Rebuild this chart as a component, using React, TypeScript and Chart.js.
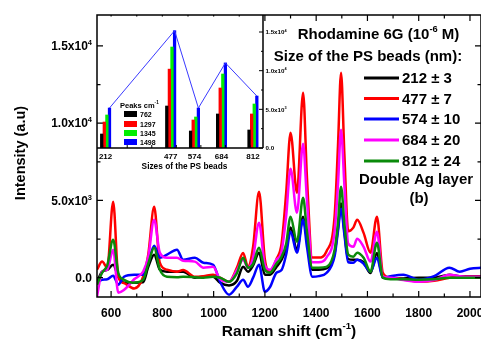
import React, { useEffect, useRef } from "react";
import { Chart, registerables } from "chart.js";

Chart.register(...registerables);

const FONT = '"Liberation Sans", Arial, Helvetica, sans-serif';

// ---- Main SERS spectra -------------------------------------------------
const ramanShift = [545, 565, 585, 608, 628, 650, 690, 725, 745, 768, 790, 818, 857, 881, 927, 960, 998, 1025, 1060, 1091, 1115, 1134, 1154, 1177, 1200, 1220, 1245, 1265, 1283, 1300, 1325, 1349, 1364, 1385, 1410, 1440, 1472, 1485, 1497, 1510, 1525, 1545, 1560, 1585, 1612, 1637, 1660, 1690, 1740, 1800, 1860, 1920, 1960, 2000, 2050];

const beads212 = [-260, 390, 500, 840, 60, -320, -320, -300, 700, 1490, 520, 390, 390, 390, 0, 60, 60, -320, -500, -200, 710, 390, 800, 1620, 190, 190, 700, 1160, 1900, 3240, 1810, 3950, 2500, 520, 520, 600, 1600, 3200, 4800, 3000, 1200, 1160, 1160, 1000, 300, 1600, 0, -50, -50, 0, 0, 190, 100, 100, 100];
const beads477 = [520, 1040, 650, 4920, 60, -350, -700, 60, 1500, 4590, 970, 520, 390, 500, 60, 100, 190, 0, -260, 650, 1600, 710, 2000, 5560, 1160, 390, 1200, 2200, 5500, 9380, 5500, 11970, 6500, 1300, 1300, 1700, 4000, 8500, 13260, 8000, 3000, 3240, 3750, 2900, 1620, 3950, 320, 0, -100, -260, -200, 0, 60, 60, 60];
const beads574 = [-320, -130, -100, 130, -450, 60, 190, 190, 970, 2070, 1290, 1490, 1810, 1160, 1290, 970, 840, -260, -1100, -580, -130, -580, 0, 840, -900, -600, 320, 500, 1500, 2980, 1620, 3750, 2000, 60, 100, 300, 1400, 3000, 4460, 2800, 1000, 970, 1160, 900, 390, 1290, 0, 100, 190, -130, 100, 650, 390, 580, 650];
const beads684 = [-1230, 400, 520, 1810, -970, -800, -100, 400, 1360, 3750, 1620, 1290, 1290, 1100, 1040, 650, 710, -100, -260, 500, 1160, 650, 1300, 3560, 800, 520, 1160, 1700, 4000, 7050, 4200, 8670, 5000, 1000, 1000, 1300, 3000, 6000, 9580, 6000, 2200, 2000, 2520, 2000, 1040, 2980, 60, 0, -150, -260, -150, 190, 100, 60, 60];
const beads812 = [-450, 320, 800, 2460, 320, -130, -320, -130, 900, 1940, 520, 60, 30, 60, 30, 0, 60, 0, -260, 300, 1290, 650, 900, 1940, 500, 320, 900, 1360, 2200, 3950, 2330, 5180, 3000, 650, 650, 700, 1800, 3500, 5890, 3500, 1500, 1360, 1620, 1290, 390, 2260, 0, -100, -100, -130, -100, 0, 0, 0, 0];

const spectra = [beads212, beads477, beads574, beads684, beads812];
const sizeLabels = ["212 \u00b1 3", "477 \u00b1 7", "574 \u00b1 10", "684 \u00b1 20", "812 \u00b1 24"];
const spectrumColors = ["#000000", "#ff0000", "#0000ff", "#ff00ff", "#0a8a0a"];
// later series are painted on top
const spectrumOrder = [4, 3, 2, 1, 0];

const xMajorTicks = [600, 800, 1000, 1200, 1400, 1600, 1800, 2000];
const xMinorTicks = [700, 900, 1100, 1300, 1500, 1700, 1900];
const yMajorTicks = [0, 5000, 10000, 15000];
const yMinorTicks = [2500, 7500, 12500];
const yTickText: [string, string][] = [["0.0", ""], ["5.0x10", "3"], ["1.0x10", "4"], ["1.5x10", "4"]];

// ---- Inset: peak intensities vs bead size -------------------------------
const beadSizes = [212, 477, 574, 684, 812];
const peakNames = ["762", "1297", "1345", "1498"];
const peak762 = [1810, 5430, 2200, 4400, 2330];
const peak1297 = [3360, 10200, 3620, 7760, 4400];
const peak1345 = [4270, 13060, 4010, 9570, 5690];
const peak1498 = [5170, 15170, 5170, 11000, 6720];
const peakSeries = [peak762, peak1297, peak1345, peak1498];
const peakColors = ["#000000", "#ff0000", "#00ee00", "#0000ff"];
const insetXTicks = [200, 300, 400, 500, 600, 700, 800];
const insetYTicks = [0, 5000, 10000, 15000];
const insetYMinor = [2500, 7500, 12500];
const insetYText: [string, string][] = [["0.0", ""], ["5.0x10", "3"], ["1.0x10", "4"], ["1.5x10", "4"]];

type Part = { t: string; sup?: boolean };

function drawRich(
  ctx: CanvasRenderingContext2D,
  parts: Part[],
  x: number,
  baseline: number,
  size: number,
  align: "left" | "center" | "right"
) {
  const supSize = size * 0.62;
  const widths = parts.map((p) => {
    ctx.font = `bold ${p.sup ? supSize : size}px ${FONT}`;
    return ctx.measureText(p.t).width;
  });
  const total = widths.reduce((a, b) => a + b, 0);
  let cx = align === "left" ? x : align === "center" ? x - total / 2 : x - total;
  ctx.textAlign = "left";
  ctx.textBaseline = "alphabetic";
  parts.forEach((p, i) => {
    ctx.font = `bold ${p.sup ? supSize : size}px ${FONT}`;
    ctx.fillText(p.t, cx, p.sup ? baseline - size * 0.42 : baseline);
    cx += widths[i];
  });
}

const mainFrame = {
  id: "mainFrame",
  afterDraw(chart: any) {
    const { ctx, chartArea: a, scales } = chart;
    const xs = scales.x;
    const ys = scales.y;
    ctx.save();
    ctx.strokeStyle = "#000";
    ctx.fillStyle = "#000";
    ctx.lineWidth = 1.5;
    ctx.strokeRect(a.left, a.top, a.right - a.left, a.bottom - a.top);

    ctx.lineWidth = 1.2;
    ctx.beginPath();
    const xt = (v: number, len: number) => {
      const px = xs.getPixelForValue(v);
      ctx.moveTo(px, a.bottom);
      ctx.lineTo(px, a.bottom - len);
      ctx.moveTo(px, a.top);
      ctx.lineTo(px, a.top + len);
    };
    xMajorTicks.forEach((v) => xt(v, 6));
    xMinorTicks.forEach((v) => xt(v, 3.5));
    const yt = (v: number, len: number) => {
      const py = ys.getPixelForValue(v);
      ctx.moveTo(a.left, py);
      ctx.lineTo(a.left + len, py);
      ctx.moveTo(a.right, py);
      ctx.lineTo(a.right - len, py);
    };
    yMajorTicks.forEach((v) => yt(v, 6));
    yMinorTicks.forEach((v) => yt(v, 3.5));
    ctx.stroke();

    // tick labels
    xMajorTicks.forEach((v) => {
      drawRich(ctx, [{ t: String(v) }], xs.getPixelForValue(v), 316.5, 12, "center");
    });
    yMajorTicks.forEach((v, i) => {
      const [base, exp] = yTickText[i];
      const parts: Part[] = [{ t: base }];
      if (exp) parts.push({ t: exp, sup: true });
      drawRich(ctx, parts, 92, ys.getPixelForValue(v) + 4.3, 12, "right");
    });

    // axis titles
    drawRich(ctx, [{ t: "Raman shift (cm" }, { t: "-1", sup: true }, { t: ")" }], 289, 335.5, 15.5, "center");
    ctx.save();
    ctx.translate(25, 153);
    ctx.rotate(-Math.PI / 2);
    drawRich(ctx, [{ t: "Intensity (a.u)" }], 0, 0, 14.5, "center");
    ctx.restore();

    // legend block
    drawRich(ctx, [{ t: "Rhodamine 6G (10" }, { t: "-6", sup: true }, { t: " M)" }], 378.5, 38.5, 15, "center");
    drawRich(ctx, [{ t: "Size of the PS beads (nm):" }], 368, 60.5, 15, "center");
    const rows = [78, 98.5, 119, 140, 161];
    chart.data.datasets.forEach((ds: any, i: number) => {
      const y = rows[i];
      ctx.strokeStyle = ds.borderColor;
      ctx.lineWidth = 3;
      ctx.beginPath();
      ctx.moveTo(364, y);
      ctx.lineTo(399, y);
      ctx.stroke();
      ctx.fillStyle = "#000";
      drawRich(ctx, [{ t: ds.label }], 402, y + 5.4, 15, "left");
    });
    drawRich(ctx, [{ t: "Double Ag layer" }], 416, 183.5, 15, "center");
    drawRich(ctx, [{ t: "(b)" }], 419, 202.5, 15, "center");
    ctx.restore();
  },
};

const insetFrame = {
  id: "insetFrame",
  beforeDatasetsDraw(chart: any) {
    const { ctx, chartArea: a } = chart;
    ctx.save();
    ctx.fillStyle = "#ffffff";
    ctx.fillRect(a.left + 7, a.top + 1.5, a.right - a.left - 7, a.bottom - a.top - 1.5);
    ctx.restore();
  },
  afterDatasetsDraw(chart: any) {
    const { ctx, chartArea: a, scales } = chart;
    const xs = scales.x;
    const ys = scales.y;
    ctx.save();

    // polyline through the tops of the 1498 cm-1 bars
    const topBars = chart.getDatasetMeta(3).data;
    ctx.strokeStyle = "#3a3aff";
    ctx.lineWidth = 1;
    ctx.beginPath();
    topBars.forEach((el: any, i: number) => {
      if (i === 0) ctx.moveTo(el.x, el.y);
      else ctx.lineTo(el.x, el.y);
    });
    ctx.stroke();

    // axes
    ctx.strokeStyle = "#000";
    ctx.lineWidth = 1.5;
    ctx.beginPath();
    ctx.moveTo(a.left, a.bottom);
    ctx.lineTo(a.right, a.bottom);
    ctx.moveTo(a.right, a.top);
    ctx.lineTo(a.right, a.bottom);
    ctx.stroke();

    ctx.lineWidth = 1;
    ctx.beginPath();
    insetXTicks.forEach((v) => {
      const px = xs.getPixelForValue(v);
      ctx.moveTo(px, a.bottom);
      ctx.lineTo(px, a.bottom - 3);
    });
    insetYTicks.forEach((v) => {
      const py = ys.getPixelForValue(v);
      ctx.moveTo(a.right, py);
      ctx.lineTo(a.right - 4, py);
    });
    insetYMinor.forEach((v) => {
      const py = ys.getPixelForValue(v);
      ctx.moveTo(a.right, py);
      ctx.lineTo(a.right - 2, py);
    });
    ctx.stroke();

    ctx.fillStyle = "#000";
    beadSizes.forEach((v) => {
      drawRich(ctx, [{ t: String(v) }], xs.getPixelForValue(v), a.bottom + 11, 8, "center");
    });
    drawRich(ctx, [{ t: "Sizes of the PS beads" }], 184.5, a.bottom + 21, 8.3, "center");
    insetYTicks.forEach((v, i) => {
      const [base, exp] = insetYText[i];
      const parts: Part[] = [{ t: base }];
      if (exp) parts.push({ t: exp, sup: true });
      drawRich(ctx, parts, a.right + 2.5, ys.getPixelForValue(v) + 2.2, 6.2, "left");
    });

    // legend
    drawRich(ctx, [{ t: "Peaks cm" }, { t: "-1", sup: true }], 120, 107.5, 7.5, "left");
    const rows = [114, 124, 133, 142];
    chart.data.datasets.forEach((ds: any, i: number) => {
      ctx.fillStyle = ds.backgroundColor;
      ctx.fillRect(124, rows[i] - 3, 13, 6);
      ctx.fillStyle = "#000";
      drawRich(ctx, [{ t: ds.label }], 140, rows[i] + 2.6, 7, "left");
    });
    ctx.restore();
  },
};

export default function App() {
  const mainRef = useRef<HTMLCanvasElement | null>(null);
  const insetRef = useRef<HTMLCanvasElement | null>(null);

  useEffect(() => {
    document.body.style.margin = "0";
    if (!mainRef.current || !insetRef.current) return;

    const main = new Chart(mainRef.current, {
      type: "line",
      data: {
        datasets: spectra.map((vals, i) => ({
          label: sizeLabels[i],
          data: ramanShift.map((x, j) => ({ x, y: vals[j] })),
          borderColor: spectrumColors[i],
          borderWidth: 2.5,
          pointRadius: 0,
          fill: false,
          cubicInterpolationMode: "monotone" as const,
          order: spectrumOrder[i],
        })),
      },
      options: {
        responsive: false,
        animation: false,
        events: [],
        layout: { padding: { left: 97, top: 15, right: 0, bottom: 47 } },
        scales: {
          x: { type: "linear", min: 545, max: 2043, display: false },
          y: { type: "linear", min: -1250, max: 17000, display: false },
        },
        plugins: { legend: { display: false }, tooltip: { enabled: false } },
      },
      plugins: [mainFrame],
    });

    const inset = new Chart(insetRef.current, {
      type: "bar",
      data: {
        datasets: peakSeries.map((vals, i) => ({
          label: peakNames[i],
          data: beadSizes.map((x, j) => ({ x, y: vals[j] })),
          backgroundColor: peakColors[i],
          borderWidth: 0,
          barThickness: 2.6,
        })),
      },
      options: {
        responsive: false,
        animation: false,
        events: [],
        layout: { padding: { left: 97, top: 15, right: 37, bottom: 32 } },
        scales: {
          x: { type: "linear", min: 177, max: 853, offset: false, display: false },
          y: { type: "linear", min: 0, max: 17200, display: false },
        },
        plugins: { legend: { display: false }, tooltip: { enabled: false } },
      },
      plugins: [insetFrame],
    });

    return () => {
      main.destroy();
      inset.destroy();
    };
  }, []);

  return (
    <div style={{ position: "relative", width: 481, height: 344, overflow: "hidden", background: "#fff" }}>
      <canvas ref={mainRef} width={481} height={344} style={{ position: "absolute", left: 0, top: 0 }} />
      <canvas ref={insetRef} width={300} height={180} style={{ position: "absolute", left: 0, top: 0 }} />
    </div>
  );
}
